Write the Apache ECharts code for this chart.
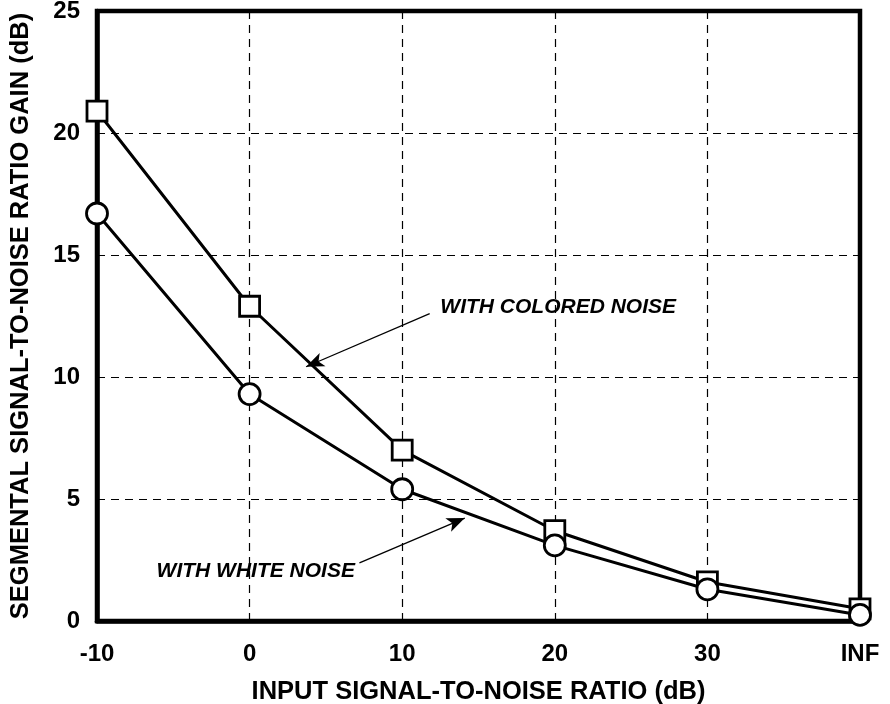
<!DOCTYPE html>
<html><head><meta charset="utf-8">
<script src="https://cdn.jsdelivr.net/npm/echarts@6/dist/echarts.min.js"></script>
<style>html,body{margin:0;padding:0;background:#fff}#c{width:890px;height:704px}</style>
</head><body><div id="c"></div>
<script>
const categories = ['-10', '0', '10', '20', '30', 'INF'];
const coloredNoise = [20.9, 12.9, 7.0, 3.7, 1.6, 0.5];
const whiteNoise = [16.7, 9.3, 5.4, 3.1, 1.3, 0.25];
const yTicks = [0, 5, 10, 15, 20, 25];

const FONT = '"Liberation Sans", Arial, sans-serif';
const chart = echarts.init(document.getElementById('c'));
const toPts = arr => arr.map((v, i) => [i, v]);

const dashed = {show: true, lineStyle: {color: '#000', width: 1.2, type: [8, 6]}};

chart.setOption({
  animation: false,
  backgroundColor: '#fff',
  grid: {left: 97, right: 30, top: 11, bottom: 83, containLabel: false, outerBoundsMode: 'none',
         show: true, borderColor: '#000', borderWidth: 4.5, backgroundColor: 'transparent'},
  xAxis: {
    type: 'value', min: 0, max: categories.length - 1, interval: 1,
    name: 'INPUT SIGNAL-TO-NOISE RATIO (dB)', nameLocation: 'middle', nameGap: 58,
    nameTextStyle: {fontFamily: FONT, fontWeight: 'bold', fontSize: 25.5, color: '#000'},
    axisLine: {show: true, lineStyle: {color: '#000', width: 4.5}},
    axisTick: {show: false},
    splitLine: dashed,
    axisLabel: {formatter: v => categories[v] ?? '', margin: 21, fontFamily: FONT, fontWeight: 'bold', fontSize: 24, color: '#000'}
  },
  yAxis: {
    type: 'value', min: yTicks[0], max: yTicks[yTicks.length - 1], interval: 5,
    name: 'SEGMENTAL SIGNAL-TO-NOISE RATIO GAIN (dB)', nameLocation: 'middle', nameGap: 63,
    nameTextStyle: {fontFamily: FONT, fontWeight: 'bold', fontSize: 25.5, color: '#000'},
    axisLine: {show: true, lineStyle: {color: '#000', width: 4.5}},
    axisTick: {show: false},
    splitLine: dashed,
    axisLabel: {margin: 17, fontFamily: FONT, fontWeight: 'bold', fontSize: 24, color: '#000'}
  },
  series: [
    {
      name: 'WITH COLORED NOISE', type: 'line', data: toPts(coloredNoise),
      symbol: 'rect', symbolSize: 20, z: 5,
      lineStyle: {color: '#000', width: 3},
      itemStyle: {color: '#fff', borderColor: '#000', borderWidth: 2.8},
      markLine: {
        silent: true, symbol: ['none', 'arrow'], symbolSize: [11, 18],
        lineStyle: {color: '#000', width: 1.3, type: 'solid'}, label: {show: false},
        data: [[{coord: [2.18, 12.6]}, {coord: [1.37, 10.42]}]]
      }
    },
    {
      name: 'WITH WHITE NOISE', type: 'line', data: toPts(whiteNoise),
      symbol: 'circle', symbolSize: 21, z: 6,
      lineStyle: {color: '#000', width: 3},
      itemStyle: {color: '#fff', borderColor: '#000', borderWidth: 2.8},
      markLine: {
        silent: true, symbol: ['none', 'arrow'], symbolSize: [11, 18],
        lineStyle: {color: '#000', width: 1.3, type: 'solid'}, label: {show: false},
        data: [[{coord: [1.72, 2.38]}, {coord: [2.41, 4.22]}]]
      }
    }
  ]
});

const p1 = chart.convertToPixel({gridIndex: 0}, [2.25, 12.85]);
const p2 = chart.convertToPixel({gridIndex: 0}, [1.69, 2.05]);
chart.setOption({
  graphic: [
    {type: 'text', x: p1[0], y: p1[1], z: 20,
     style: {text: 'WITH COLORED NOISE', fill: '#000', font: 'italic bold 21px ' + FONT, textAlign: 'left', textVerticalAlign: 'middle'}},
    {type: 'text', x: p2[0], y: p2[1], z: 20,
     style: {text: 'WITH WHITE NOISE', fill: '#000', font: 'italic bold 21px ' + FONT, textAlign: 'right', textVerticalAlign: 'middle'}}
  ]
});
</script></body></html>
